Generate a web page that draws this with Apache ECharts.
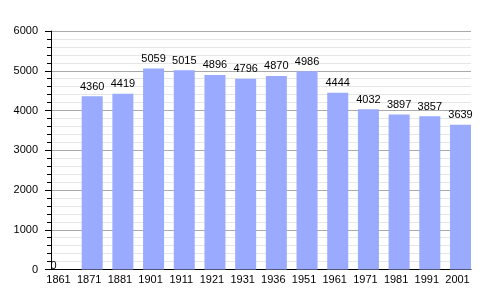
<!DOCTYPE html>
<html>
<head>
<meta charset="utf-8">
<script src="https://cdn.jsdelivr.net/npm/echarts@6/dist/echarts.min.js"></script>
<style>html,body{margin:0;padding:0;background:#fff}#c{width:500px;height:300px}</style>
</head>
<body>
<div id="c"></div>
<script>
const years = ['1861','1871','1881','1901','1911','1921','1931','1936','1951','1961','1971','1981','1991','2001'];
const population = [0,4360,4419,5059,5015,4896,4796,4870,4986,4444,4032,3897,3857,3639];
const yMin = 0, yMax = 6000, yStep = 1000;

const font = 'Liberation Sans, Arial, sans-serif';
const barData = population.map(v => v === 0 ? {value: v, label: {offset: [-8, 6]}} : v);
const chart = echarts.init(document.getElementById('c'), null, {renderer:'canvas'});
chart.setOption({
  animation: false,
  grid: [
    {left: 51, right: 29, top: 31, bottom: 30.5},
    {left: 46.15, right: 24.15, top: 31, bottom: 30.5}
  ],
  xAxis: [
    {gridIndex: 0, type: 'category', data: years, boundaryGap: true,
     axisLine: {show: true, lineStyle: {color: '#000', width: 1}},
     axisTick: {show: false}, axisLabel: {show: false}, splitLine: {show: false}},
    {gridIndex: 1, type: 'category', data: years, boundaryGap: true,
     axisLine: {show: false}, axisTick: {show: false},
     axisLabel: {color: '#000', fontSize: 11, fontFamily: font, margin: 5, interval: 0, padding: [0, 6, 0, 0]}}
  ],
  yAxis: [
    {gridIndex: 0, type: 'value', min: yMin, max: yMax, interval: yStep,
     axisLine: {show: true, lineStyle: {color: '#000', width: 1}},
     axisTick: {show: true, length: 6, lineStyle: {color: '#000'}},
     minorTick: {show: true, splitNumber: 5, length: 4, lineStyle: {color: '#000'}},
     splitLine: {show: true, lineStyle: {color: '#aaaaaa', width: 1}},
     minorSplitLine: {show: true, lineStyle: {color: '#e6e6e6', width: 1}},
     axisLabel: {color: '#000', fontSize: 11, fontFamily: font, margin: 13, formatter: v => String(v)}},
    {gridIndex: 1, type: 'value', min: yMin, max: yMax, show: false}
  ],
  series: [{
    type: 'bar', xAxisIndex: 1, yAxisIndex: 1, data: barData, barWidth: 21,
    itemStyle: {color: '#99aaff'},
    label: {show: true, position: 'top', distance: 4, color: '#000', fontSize: 11, fontFamily: font}
  }]
});
</script>
</body>
</html>
